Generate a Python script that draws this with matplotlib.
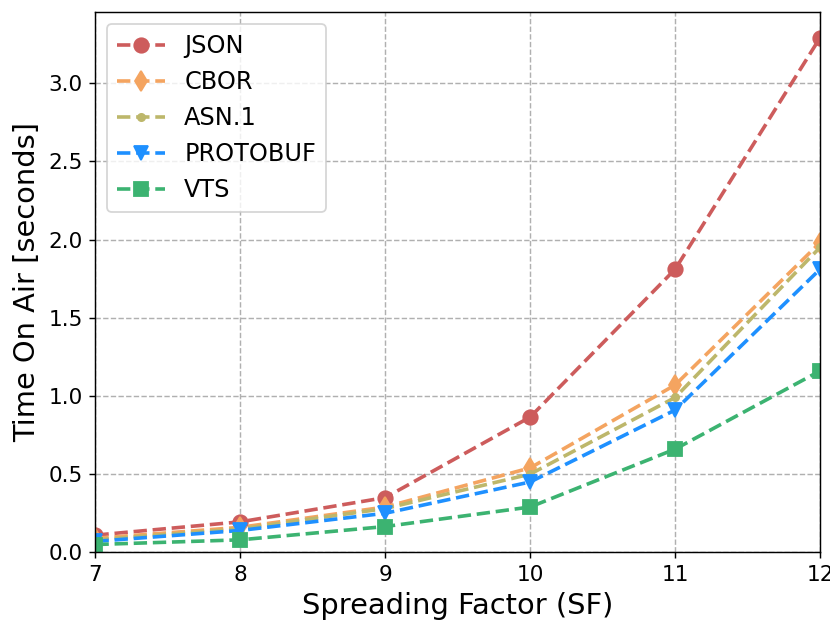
import numpy as np
import matplotlib
matplotlib.use('Agg')
import matplotlib.pyplot as plt

sf = [7, 8, 9, 10, 11, 12]

json_toa = [0.11, 0.195, 0.35, 0.865, 1.81, 3.29]
cbor_toa = [0.09, 0.16, 0.29, 0.54, 1.07, 1.98]
asn1_toa = [0.08, 0.15, 0.28, 0.50, 0.99, 1.95]
protobuf_toa = [0.07, 0.14, 0.25, 0.45, 0.91, 1.81]
vts_toa = [0.05, 0.08, 0.165, 0.29, 0.66, 1.16]

dpi = 130
fig, ax = plt.subplots(figsize=(830 / dpi, 622 / dpi), dpi=dpi)

ax.plot(sf, json_toa, '--o', color='indianred', linewidth=2, markersize=8, label='JSON')
ax.plot(sf, cbor_toa, '--d', color='sandybrown', linewidth=2, markersize=8, label='CBOR')
ax.plot(sf, asn1_toa, '--.', color='darkkhaki', linewidth=2, markersize=8, label='ASN.1')
ax.plot(sf, protobuf_toa, '--v', color='dodgerblue', linewidth=2, markersize=8, label='PROTOBUF')
ax.plot(sf, vts_toa, '--s', color='mediumseagreen', linewidth=2, markersize=8, label='VTS')

ax.set_xlim(7, 12)
ax.set_ylim(bottom=0)
ax.set_xlabel('Spreading Factor (SF)', fontsize=16)
ax.set_ylabel('Time On Air [seconds]', fontsize=16)
ax.tick_params(labelsize=12)
ax.grid(True, linestyle='--', color='#b0b0b0', linewidth=0.8)
ax.legend(fontsize=13.3, loc='upper left')

plt.subplots_adjust(left=0.115, right=0.988, top=0.98, bottom=0.112)
plt.savefig('out.png', dpi=dpi)
